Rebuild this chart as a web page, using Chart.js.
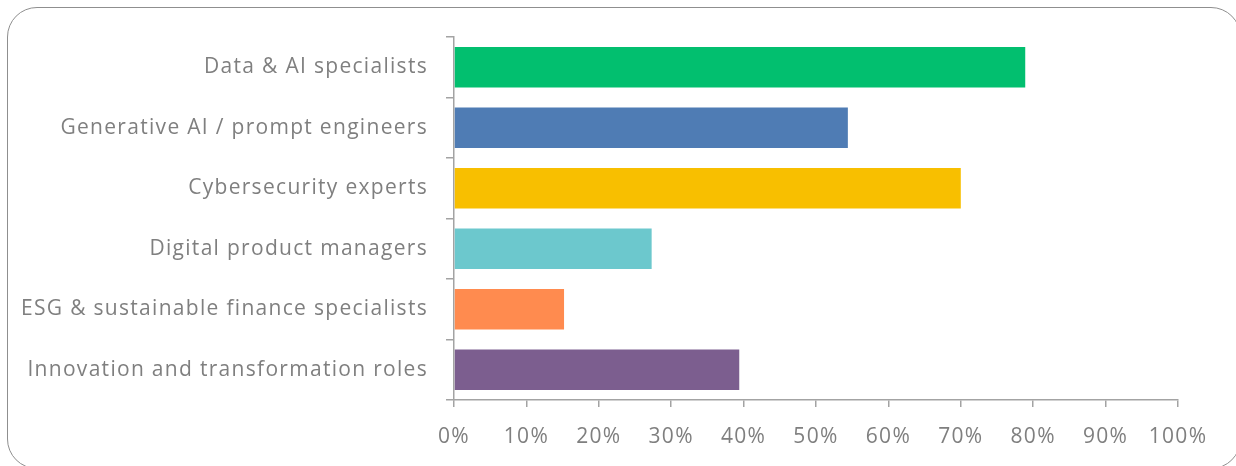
<!DOCTYPE html>
<html>
<head>
<meta charset="utf-8">
<script src="https://cdn.jsdelivr.net/npm/chart.js@4.4.1/dist/chart.umd.min.js"></script>
<style>
  html, body { margin: 0; padding: 0; background: #fff; overflow: hidden; }
  #wrap { position: relative; width: 1236px; height: 466px; overflow: hidden; }
  #frame {
    position: absolute; left: 7px; top: 7px; width: 1234px; height: 462px;
    border: 1.5px solid #8f8f8f; border-radius: 30px; box-sizing: border-box;
  }
  canvas { position: absolute; left: 0; top: 0; }
</style>
</head>
<body>
<div id="wrap">
  <div id="frame"></div>
  <canvas id="rolesChart" width="1236" height="466"></canvas>
</div>
<script>
const roles = [
  "Data & AI specialists",
  "Generative AI / prompt engineers",
  "Cybersecurity experts",
  "Digital product managers",
  "ESG & sustainable finance specialists",
  "Innovation and transformation roles",
];
const shares = [78.9, 54.4, 70.0, 27.3, 15.2, 39.4];
const roleColors = ["#02bf6f", "#4f7cb4", "#f8bf00", "#6cc8cd", "#ff8b4f", "#7c5e8f"];

const axisColor = "#a3a3a3";
const textColor = "#7f7f7f";
const font = { family: "'Open Sans'", size: 21 };

// slightly looser text, set on the context before each draw
const letterSpacing = {
  id: "letterSpacing",
  beforeDraw(chart) {
    chart.ctx.letterSpacing = "1.3px";
  },
};

new Chart(document.getElementById("rolesChart"), {
  type: "bar",
  data: {
    labels: roles,
    datasets: [
      {
        data: shares,
        backgroundColor: roleColors,
        borderWidth: 0,
        barPercentage: 0.67,
        categoryPercentage: 1,
      },
    ],
  },
  options: {
    indexAxis: "y",
    responsive: false,
    animation: false,
    layout: { padding: { top: 37, right: 58, bottom: 0, left: 0 } },
    plugins: { legend: { display: false }, tooltip: { enabled: false } },
    scales: {
      y: {
        afterFit: (scale) => { scale.width = 454; },
        grid: { drawOnChartArea: false, color: axisColor, lineWidth: 1.5, tickLength: 8, offset: true },
        border: { color: axisColor, width: 1.5 },
        ticks: { color: textColor, font, padding: 18 },
      },
      x: {
        min: 0,
        max: 100,
        afterFit: (scale) => { scale.height = 66; },
        grid: { drawOnChartArea: false, color: axisColor, lineWidth: 1.5, tickLength: 7 },
        border: { color: axisColor, width: 1.5 },
        ticks: {
          stepSize: 10,
          color: textColor,
          font,
          padding: 17,
          maxRotation: 0,
          callback: (v) => v + "%",
        },
      },
    },
  },
  plugins: [letterSpacing],
});
</script>
</body>
</html>
